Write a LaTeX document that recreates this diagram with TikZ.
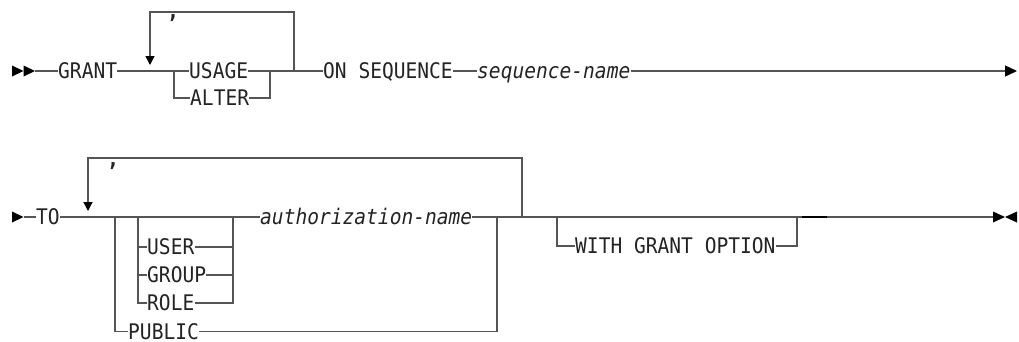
\documentclass[tikz,border=0pt]{standalone}
\usepackage{fontspec}
\newfontfamily\railfont[FakeStretch=0.91]{DejaVu Sans Mono}
\usepackage{xcolor}
\definecolor{rrline}{RGB}{85,85,85}
\definecolor{rrtext}{RGB}{35,35,35}
\usetikzlibrary{arrows.meta, positioning}

\tikzset{
  kw/.style={font=\railfont\fontsize{21.5}{24}\selectfont, text=rrtext,
             inner sep=0pt, text height=15.6pt, text depth=0pt, anchor=west},
  varname/.style={kw, font=\railfont\itshape\fontsize{21.5}{24}\selectfont},
  sepmark/.style={kw, font=\railfont\bfseries\fontsize{22}{24}\selectfont, anchor=base west},
  rail/.style={draw=rrline, line width=1.3pt},
  downtip/.style={{Triangle[width=9pt,length=9pt,color=black]}-},
}

\begin{document}
\begin{tikzpicture}[x=1pt, y=-1pt]
  \useasboundingbox (0,0) rectangle (1019,341);

  % --- Row 1: GRANT ... ON SEQUENCE ---
  \fill[black] (12,65.5) -- (23.5,71) -- (12,76.5) -- cycle;
  \fill[black] (23.5,65.5) -- (35,71) -- (23.5,76.5) -- cycle;
  \coordinate (s1) at (35,71);
  \node[kw] (grant) at (58,71) {GRANT};
  \coordinate (lp1) at (150,12);
  \coordinate (tip1) at (150,65);
  \coordinate (b1l) at (174,71);
  \coordinate (b1r) at (270,71);
  \coordinate (j1) at (294,71);
  \node[sepmark] (comma1) at (167,18) {,};
  \node[kw] (usage) at (189,71) {USAGE};
  \node[kw] (alter) at (190,98) {ALTER};
  \node[kw] (onseq) at (323,71) {ON SEQUENCE};
  \node[varname] (seqname) at (477,71) {sequence-name};
  \coordinate (e1) at (1017,71);

  \draw[rail] (s1) -- (grant.west);
  \draw[rail] (grant.east) -- (b1l) -- (usage.west);
  \draw[rail] (b1l) |- (alter.west);
  \draw[rail] (usage.east) -- (b1r) -- (j1) -- (onseq.west);
  \draw[rail] (alter.east) -| (b1r);
  \draw[rail, downtip] (tip1) -- (lp1) -| (j1);
  \draw[rail] (onseq.east) -- (seqname.west);
  \draw[rail, -{Triangle[width=11pt,length=12pt,color=black]}] (seqname.east) -- (e1);

  % --- Row 2: TO ... WITH GRANT OPTION ---
  \fill[black] (12,211.5) -- (23.5,217) -- (12,222.5) -- cycle;
  \coordinate (s2) at (23.5,217);
  \node[kw] (to) at (36,217) {TO};
  \coordinate (lp2) at (88,158);
  \coordinate (tip2) at (88,211);
  \coordinate (b2l) at (115,217);
  \coordinate (b3l) at (138,217);
  \coordinate (b3r) at (233,217);
  \coordinate (b2r) at (497,217);
  \coordinate (j2) at (522,217);
  \coordinate (b4l) at (557,217);
  \coordinate (b4r) at (797,217);
  \coordinate (d1) at (802,217);
  \coordinate (d2) at (827,217);
  \coordinate (e2) at (993,217);
  \node[sepmark] (comma2) at (107,166) {,};
  \node[kw] (user) at (147,247) {USER};
  \node[kw] (group) at (147,275) {GROUP};
  \node[kw] (role) at (147,303) {ROLE};
  \node[kw] (public) at (128,331.5) {PUBLIC};
  \node[varname] (authname) at (260,217) {authorization-name};
  \node[kw] (withgrant) at (575,246) {WITH GRANT OPTION};

  \draw[rail] (s2) -- (to.west);
  \draw[rail] (to.east) -- (b2l) -- (b3l) -- (b3r) -- (authname.west);
  \draw[rail] (b2l) |- (public.west);
  \foreach \n in {user,group,role} {
    \draw[rail] (b3l) |- (\n.west);
    \draw[rail] (\n.east) -| (b3r);
  }
  \draw[rail] (authname.east) -- (b2r) -- (j2) -- (b4l) -- (b4r) -- (d1);
  \draw[rail] (public.east) -| (b2r);
  \draw[rail, downtip] (tip2) -- (lp2) -| (j2);
  \draw[rail] (b4l) |- (withgrant.west);
  \draw[rail] (withgrant.east) -| (b4r);
  \draw[black, line width=1.8pt] (d1) -- (d2);
  \draw[rail] (d2) -- (e2);
  \fill[black] (993,211.5) -- (1005,217) -- (993,222.5) -- cycle;
  \fill[black] (1017,211.5) -- (1005,217) -- (1017,222.5) -- cycle;
\end{tikzpicture}
\end{document}
